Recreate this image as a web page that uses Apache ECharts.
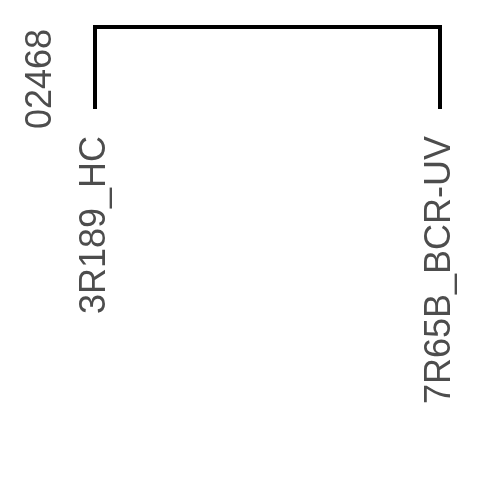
<!DOCTYPE html>
<html><head><meta charset="utf-8">
<script src="https://cdn.jsdelivr.net/npm/echarts@6/dist/echarts.min.js"></script>
<style>html,body{margin:0;padding:0;background:#fff}#c{width:480px;height:480px}</style>
</head><body><div id="c"></div>
<script>
const leaves = ['3R189_HC', '7R65B_BCR-UV'];
const leafPos = [1, 2];
const mergeHeight = 8.6;
const yTickLabels = ['0', '2', '4', '6', '8'];

const chart = echarts.init(document.getElementById('c'), null, {renderer: 'canvas'});
const pathData = [[leafPos[0], 0], [leafPos[0], mergeHeight], [leafPos[1], mergeHeight], [leafPos[1], 0]];
chart.setOption({
  animation: false,
  backgroundColor: '#fff',
  grid: {left: 95, right: 40, top: 27, bottom: 371, containLabel: false},
  xAxis: {
    type: 'value', min: 1, max: 2, interval: 1,
    axisLine: {show: false}, axisTick: {show: false}, splitLine: {show: false},
    axisLabel: {
      show: true, rotate: 90, margin: 27, showMinLabel: true, showMaxLabel: true,
      fontFamily: 'Liberation Sans', fontSize: 36, color: '#4d4d4d',
      formatter: v => leaves[leafPos.indexOf(v)] || ''
    }
  },
  yAxis: {
    type: 'value', min: 0, max: mergeHeight,
    axisLine: {show: false}, axisTick: {show: false}, splitLine: {show: false}, axisLabel: {show: false}
  },
  graphic: [{
    type: 'text', x: 41, y: 79, rotation: Math.PI / 2,
    style: {text: yTickLabels.join(''), font: '36px "Liberation Sans"', fill: '#4d4d4d', textAlign: 'center', textVerticalAlign: 'middle'}
  }],
  series: [{
    type: 'line', data: pathData, symbol: 'none', clip: false,
    lineStyle: {color: '#000', width: 4, join: 'miter', cap: 'butt'}
  }]
});
</script></body></html>
